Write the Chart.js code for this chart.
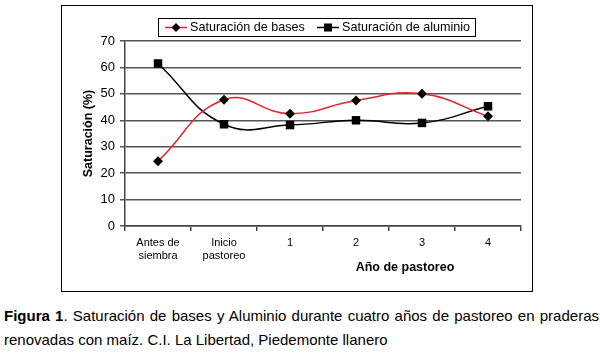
<!DOCTYPE html>
<html>
<head>
<meta charset="utf-8">
<script src="https://cdn.jsdelivr.net/npm/chart.js@4"></script>
<style>
    body { margin: 0; background: #fff; font-family: "Liberation Sans", Arial, sans-serif; }
    #box { position: absolute; left: 61px; top: 5px; width: 470px; height: 285px; border: 1px solid #000; }
    #caption { position: absolute; left: 4px; top: 304px; width: 595px; font-size: 15px; line-height: 24px; color: #000; white-space: nowrap; }
    #caption .l1 { text-align: justify; text-align-last: justify; }
</style>
</head>
<body>
<div id="box"><canvas id="satChart" width="470" height="285"></canvas></div>
<div id="caption"><div class="l1"><b>Figura 1</b>. Saturación de bases y Aluminio durante cuatro años de pastoreo en praderas</div><div>renovadas con maíz. C.I. La Libertad, Piedemonte llanero</div></div>
<script>
const categories = [['Antes de', 'siembra'], ['Inicio', 'pastoreo'], '1', '2', '3', '4'];
const basesValues = [24.5, 47.8, 42.5, 47.5, 50.0, 41.5];
const aluminioValues = [61.5, 38.5, 38.2, 40.0, 39.0, 45.3];
const seriesNames = ['Saturación de bases', 'Saturación de aluminio'];
const yTicks = [0, 10, 20, 30, 40, 50, 60, 70];

// draws boxed legend and axis titles
const extras = {
    id: 'extras',
    afterDraw(chart) {
        const ctx = chart.ctx;
        const ca = chart.chartArea;
        ctx.save();
        // legend box
        ctx.fillStyle = '#fff';
        ctx.fillRect(96, 12, 317, 18);
        ctx.strokeStyle = '#000';
        ctx.lineWidth = 1;
        ctx.strokeRect(96.5, 12.5, 317, 18);
        const items = [
            { x: 103, color: '#e3242b', marker: 'diamond', text: seriesNames[0] },
            { x: 255, color: '#000', marker: 'square', text: seriesNames[1] }
        ];
        items.forEach(function(it) {
            ctx.strokeStyle = it.color;
            ctx.lineWidth = 1.5;
            ctx.beginPath();
            ctx.moveTo(it.x, 21.5);
            ctx.lineTo(it.x + 22, 21.5);
            ctx.stroke();
            ctx.fillStyle = '#000';
            const cx = it.x + 11;
            if (it.marker === 'diamond') {
                ctx.beginPath();
                ctx.moveTo(cx, 17);
                ctx.lineTo(cx + 4.5, 21.5);
                ctx.lineTo(cx, 26);
                ctx.lineTo(cx - 4.5, 21.5);
                ctx.closePath();
                ctx.fill();
            } else {
                ctx.fillRect(cx - 4, 17.5, 8, 8);
            }
            ctx.font = '12.6px "Liberation Sans", Arial';
            ctx.textBaseline = 'middle';
            ctx.textAlign = 'left';
            ctx.fillText(it.text, it.x + 25, 22);
        });
        // axis titles
        ctx.fillStyle = '#000';
        ctx.font = 'bold 12.5px "Liberation Sans", Arial';
        ctx.textAlign = 'center';
        ctx.textBaseline = 'middle';
        ctx.fillText('Año de pastoreo', 343, 262);
        ctx.translate(27, (ca.top + ca.bottom) / 2);
        ctx.rotate(-Math.PI / 2);
        ctx.fillText('Saturación (%)', 0, 0);
        ctx.restore();
    }
};

const ctx = document.getElementById('satChart').getContext('2d');
const myChart = new Chart(ctx, {
    type: 'line',
    data: {
        labels: categories,
        datasets: [{
                label: seriesNames[0],
                data: basesValues,
                borderColor: '#e3242b',
                borderWidth: 1.5,
                pointStyle: 'rectRot',
                pointRadius: 5,
                pointBackgroundColor: '#000',
                pointBorderColor: '#000',
                pointBorderWidth: 0,
                tension: 0.45
            },
            {
                label: seriesNames[1],
                data: aluminioValues,
                borderColor: '#000',
                borderWidth: 1.5,
                pointStyle: 'rect',
                pointRadius: 6,
                pointBackgroundColor: '#000',
                pointBorderColor: '#000',
                pointBorderWidth: 0,
                tension: 0.45
            }
        ]
    },
    options: {
        responsive: false,
        animation: false,
        layout: { padding: { top: 35, right: 11, left: 0, bottom: 0 } },
        plugins: { legend: { display: false }, tooltip: { enabled: false } },
        scales: {
            x: {
                offset: true,
                afterFit(scale) { scale.height = 65; },
                grid: { offset: true, drawOnChartArea: false, drawTicks: true, tickLength: 5, color: '#444', lineWidth: 1.5 },
                border: { display: true, color: '#444', width: 1.5 },
                ticks: { color: '#000', font: { family: 'Liberation Sans', size: 11 }, padding: 5, maxRotation: 0 }
            },
            y: {
                min: 0,
                max: 70,
                afterFit(scale) { scale.width = 63; },
                afterBuildTicks(scale) { scale.ticks = yTicks.map(v => ({ value: v })); },
                grid: { color: '#555', lineWidth: 1.5, drawTicks: true, tickLength: 5 },
                border: { display: true, color: '#444', width: 1.5 },
                ticks: { color: '#000', font: { family: 'Liberation Sans', size: 13 }, padding: 5 }
            }
        }
    },
    plugins: [extras]
});
</script>
</body>
</html>
